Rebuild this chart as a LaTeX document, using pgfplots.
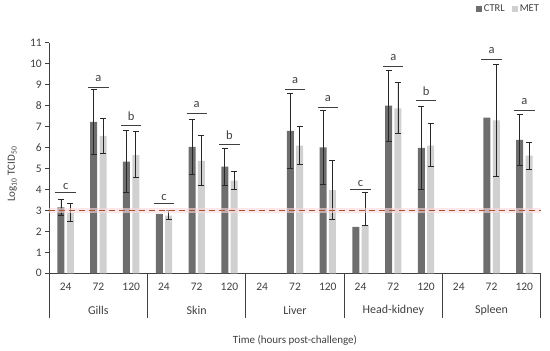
\documentclass[border=0pt]{standalone}
\usepackage{pgfplots}
\pgfplotsset{compat=1.18}
\usepackage{pgfplotstable}
\usepackage{fontspec}
\setmainfont{Carlito}
\definecolor{ctrl}{RGB}{110,110,110}
\definecolor{met}{RGB}{208,208,208}
\definecolor{axc}{RGB}{64,64,64}
\definecolor{errc}{RGB}{40,40,40}
\definecolor{thr}{RGB}{165,85,45}
\definecolor{glow}{RGB}{250,215,222}

% CTRL with error bars
\pgfplotstableread{
x y e
0 3.15 0.37
1 7.22 1.55
2 5.33 1.47
4 6.03 1.30
5 5.09 0.88
7 6.79 1.80
8 6.01 1.75
10 8.00 1.70
11 5.98 2.00
14 6.36 1.20
}\ctrltab
% CTRL without error bars
\pgfplotstableread{
x y
3 2.83
9 2.22
13 7.42
}\ctrlnoe
% MET with error bars
\pgfplotstableread{
x y ep em
0 2.90 0.45 0.45
1 6.55 0.84 0.84
2 5.64 1.12 1.08
3 2.75 0.23 0.20
4 5.36 1.20 1.15
5 4.42 0.43 0.40
7 6.09 0.90 0.88
8 3.97 1.42 1.40
9 2.30 1.55 0.00
10 7.87 1.22 1.22
11 6.09 1.07 1.00
13 7.30 2.67 2.66
14 5.61 0.64 0.68
}\mettab

\begin{document}
\begin{tikzpicture}
\useasboundingbox (-49.3pt,-77.7pt) rectangle (500.7pt,273.3pt);
\begin{axis}[
  scale only axis,
  width=491.4pt, height=230.6pt,
  xmin=-0.5, xmax=14.5, ymin=0, ymax=11,
  ytick={0,1,...,11},
  xtick={0,1,...,14},
  xticklabels={24,72,120,24,72,120,24,72,120,24,72,120,24,72,120},
  axis x line*=bottom, axis y line*=left,
  axis line style={axc, line width=0.8pt},
  tick align=outside, major tick length=4pt,
  ytick style={axc, line width=0.7pt},
  xtick style={draw=none},
  tick label style={font=\fontsize{11.5}{13}\selectfont, text=axc},
  /pgf/number format/assume math mode=true,
  xticklabel style={yshift=-2pt},
  ylabel={Log\textsubscript{10} TCID\textsubscript{50}},
  ylabel style={at={(axis description cs:-0.0753,0.43)}, anchor=center, font=\fontsize{11}{13}\selectfont, text=axc},
  xlabel={Time (hours post-challenge)},
  xlabel style={at={(axis description cs:0.5,-0.292)}, anchor=center, font=\fontsize{11}{13}\selectfont, text=axc},
  clip=false,
  legend style={draw=none, fill=none, legend columns=2, at={(1.0006,1.146)}, anchor=east,
    font=\fontsize{10.5}{12}\selectfont, text=axc, inner sep=0pt, outer sep=0pt,
    /tikz/every even column/.append style={column sep=5pt}},
  legend image code/.code={\fill[#1] (0pt,-3pt) rectangle (6pt,3pt);},
]
\addplot[ybar, bar width=7pt, bar shift=0pt, fill=ctrl, draw=none,
  error bars/.cd, y dir=both, y explicit,
  error bar style={errc, line width=0.9pt},
  error mark options={rotate=90, mark size=3pt, line width=0.9pt, errc}]
  table[x expr=\thisrow{x}-0.1435, y=y, y error=e]{\ctrltab};
\addlegendentry{CTRL}
\addplot[ybar, bar width=7pt, bar shift=0pt, fill=met, draw=none,
  error bars/.cd, y dir=both, y explicit,
  error bar style={errc, line width=0.9pt},
  error mark options={rotate=90, mark size=3pt, line width=0.9pt, errc}]
  table[x expr=\thisrow{x}+0.1435, y=y, y error plus=ep, y error minus=em]{\mettab};
\addlegendentry{MET}
\addplot[ybar, bar width=7pt, bar shift=0pt, fill=ctrl, draw=none, forget plot]
  table[x expr=\thisrow{x}-0.1435, y=y]{\ctrlnoe};

% threshold line
\draw[glow, line width=5pt, opacity=0.6] (axis cs:-0.5,3) -- (axis cs:14.5,3);
\draw[thr, line width=1.5pt, dash pattern=on 6pt off 4pt] (axis cs:-0.5,3) -- (axis cs:14.5,3);

% significance letters
\tikzset{sigl/.style={axc, line width=0.8pt}, sigt/.style={anchor=base, font=\fontsize{12.5}{14}\selectfont, text=axc}}
\draw[sigl] (axis cs:0,3.85) +(-10.2pt,0pt) -- +(10.2pt,0pt);  \node[sigt, yshift=3pt] at (axis cs:0,3.85) {c};
\draw[sigl] (axis cs:1,8.87) +(-10.2pt,0pt) -- +(10.2pt,0pt);  \node[sigt, yshift=6pt] at (axis cs:1,8.87) {a};
\draw[sigl] (axis cs:2,7.07) +(-10.2pt,0pt) -- +(10.2pt,0pt);  \node[sigt, yshift=5pt] at (axis cs:2,7.07) {b};
\draw[sigl] (axis cs:3,3.35) +(-10.2pt,0pt) -- +(10.2pt,0pt);  \node[sigt, yshift=3pt] at (axis cs:3,3.35) {c};
\draw[sigl] (axis cs:4,7.63) +(-10.2pt,0pt) -- +(10.2pt,0pt);  \node[sigt, yshift=6pt] at (axis cs:4,7.63) {a};
\draw[sigl] (axis cs:5,6.15) +(-10.2pt,0pt) -- +(10.2pt,0pt);  \node[sigt, yshift=5pt] at (axis cs:5,6.15) {b};
\draw[sigl] (axis cs:7,8.78) +(-10.2pt,0pt) -- +(10.2pt,0pt);  \node[sigt, yshift=6pt] at (axis cs:7,8.78) {a};
\draw[sigl] (axis cs:8,7.90) +(-10.2pt,0pt) -- +(10.2pt,0pt);  \node[sigt, yshift=6pt] at (axis cs:8,7.90) {a};
\draw[sigl] (axis cs:9,4.00) +(-10.2pt,0pt) -- +(10.2pt,0pt);  \node[sigt, yshift=3pt] at (axis cs:9,4.00) {c};
\draw[sigl] (axis cs:10,9.86) +(-10.2pt,0pt) -- +(10.2pt,0pt); \node[sigt, yshift=6pt] at (axis cs:10,9.86) {a};
\draw[sigl] (axis cs:11,8.23) +(-10.2pt,0pt) -- +(10.2pt,0pt); \node[sigt, yshift=5pt] at (axis cs:11,8.23) {b};
\draw[sigl] (axis cs:13,10.22) +(-10.2pt,0pt) -- +(10.2pt,0pt); \node[sigt, yshift=6pt] at (axis cs:13,10.22) {a};
\draw[sigl] (axis cs:14,7.78) +(-10.2pt,0pt) -- +(10.2pt,0pt); \node[sigt, yshift=6pt] at (axis cs:14,7.78) {a};

% group dividers and labels
\draw[axc, line width=0.8pt] (axis cs:-0.5,0) -- ++(0pt,-45pt);
\draw[axc, line width=0.8pt] (axis cs:2.5,0) -- ++(0pt,-45pt);
\draw[axc, line width=0.8pt] (axis cs:5.5,0) -- ++(0pt,-45pt);
\draw[axc, line width=0.8pt] (axis cs:8.5,0) -- ++(0pt,-45pt);
\draw[axc, line width=0.8pt] (axis cs:11.5,0) -- ++(0pt,-45pt);
\draw[axc, line width=0.8pt] (axis cs:14.5,0) -- ++(0pt,-45pt);
\tikzset{grp/.style={font=\fontsize{12}{14}\selectfont, text=axc, anchor=center, yshift=-37.4pt}}
\node[grp] at (axis cs:1,0) {Gills};
\node[grp] at (axis cs:4,0) {Skin};
\node[grp] at (axis cs:7,0) {Liver};
\node[grp] at (axis cs:10,0) {Head-kidney};
\node[grp] at (axis cs:13,0) {Spleen};
\end{axis}
\end{tikzpicture}
\end{document}
